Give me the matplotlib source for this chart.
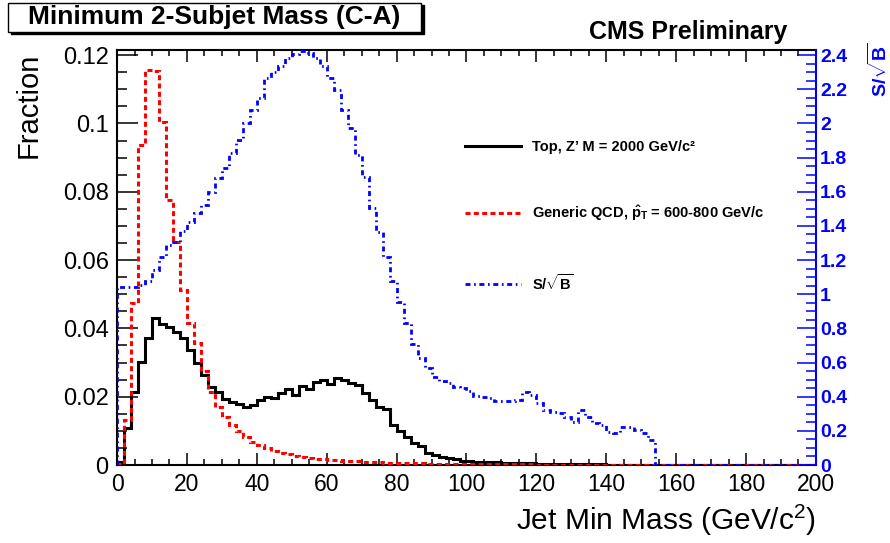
import numpy as np
import matplotlib
matplotlib.use("Agg")
import matplotlib.pyplot as plt
from matplotlib.patches import Rectangle
from matplotlib.ticker import MultipleLocator, FuncFormatter

plt.rcParams["font.family"] = ["Liberation Sans", "DejaVu Sans"]
plt.rcParams["mathtext.fontset"] = "custom"
plt.rcParams["mathtext.rm"] = "Liberation Sans"
plt.rcParams["mathtext.it"] = "Liberation Sans:italic"
plt.rcParams["mathtext.bf"] = "Liberation Sans:bold"
plt.rcParams["lines.scale_dashes"] = False

# 100 bins of 2 GeV from 0 to 200
bin_edges = np.linspace(0, 200, 101)

# Top, Z' M = 2000 GeV/c^2  (fraction per bin)
top_frac = [
    0.0010, 0.0107, 0.0215, 0.0302, 0.0371, 0.0429, 0.0412, 0.0405, 0.0390, 0.0372,
    0.0336, 0.0300, 0.0263, 0.0228, 0.0213, 0.0192, 0.0185, 0.0178, 0.0170, 0.0176,
    0.0190, 0.0198, 0.0195, 0.0210, 0.0222, 0.0206, 0.0231, 0.0224, 0.0244, 0.0249,
    0.0236, 0.0255, 0.0249, 0.0241, 0.0234, 0.0210, 0.0190, 0.0170, 0.0163, 0.0118,
    0.0100, 0.0082, 0.0064, 0.0056, 0.0036, 0.0029, 0.0024, 0.0020, 0.0017, 0.0013,
    0.0011, 0.0010, 0.0009, 0.0008, 0.0008, 0.0007, 0.0006, 0.0006, 0.0005, 0.0005,
    0.0004, 0.0004, 0.0004, 0.0003, 0.0003, 0.0003, 0.0002, 0.0002, 0.0002, 0.0002,
    0.0001, 0.0001, 0.0001, 0.0001, 0.0001, 0.0001, 0.0001, 0.0001, 0.0001, 0.0001,
    0.0, 0.0, 0.0, 0.0, 0.0, 0.0, 0.0, 0.0, 0.0, 0.0,
    0.0, 0.0, 0.0, 0.0, 0.0, 0.0, 0.0, 0.0, 0.0, 0.0,
]

# Generic QCD, pT-hat = 600-800 GeV/c
qcd_frac = [
    0.0003, 0.0132, 0.0473, 0.0937, 0.1156, 0.1154, 0.1005, 0.0776, 0.0654, 0.0512,
    0.0417, 0.0356, 0.0275, 0.0215, 0.0170, 0.0140, 0.0118, 0.0100, 0.0082, 0.0068,
    0.0058, 0.0049, 0.0042, 0.0036, 0.0031, 0.0027, 0.0023, 0.0021, 0.0019, 0.0017,
    0.0015, 0.0014, 0.0013, 0.0012, 0.0011, 0.0010, 0.0009, 0.0008, 0.0007, 0.0007,
    0.0006, 0.0006, 0.0005, 0.0005, 0.0004, 0.0004, 0.0004, 0.0003, 0.0003, 0.0003,
    0.0002, 0.0002, 0.0002, 0.0002, 0.0002, 0.0002, 0.0002, 0.0002, 0.0002, 0.0002,
    0.0001, 0.0001, 0.0001, 0.0001, 0.0001, 0.0001, 0.0001, 0.0001, 0.0001, 0.0001,
    0.0001, 0.0001, 0.0001, 0.0001, 0.0001, 0.0, 0.0, 0.0, 0.0, 0.0,
    0.0, 0.0, 0.0, 0.0, 0.0, 0.0, 0.0, 0.0, 0.0, 0.0,
    0.0, 0.0, 0.0, 0.0, 0.0, 0.0, 0.0, 0.0, 0.0, 0.0,
]

# S/sqrt(B), right axis
s_over_sqrtb = [
    1.044, 1.044, 1.044, 1.054, 1.079, 1.142, 1.220, 1.288, 1.304, 1.372,
    1.425, 1.474, 1.522, 1.600, 1.679, 1.737, 1.825, 1.903, 2.000, 2.078,
    2.147, 2.264, 2.299, 2.336, 2.381, 2.406, 2.426, 2.410, 2.381, 2.336,
    2.264, 2.196, 2.078, 1.971, 1.815, 1.688, 1.503, 1.366, 1.220, 1.080,
    0.955, 0.834, 0.708, 0.626, 0.571, 0.515, 0.494, 0.482, 0.458, 0.449,
    0.435, 0.404, 0.400, 0.390, 0.376, 0.376, 0.376, 0.380, 0.430, 0.410,
    0.361, 0.322, 0.312, 0.303, 0.279, 0.254, 0.320, 0.283, 0.248, 0.234,
    0.195, 0.186, 0.224, 0.224, 0.205, 0.189, 0.146, 0.0, 0.0, 0.0,
    0.0, 0.0, 0.0, 0.0, 0.0, 0.0, 0.0, 0.0, 0.0, 0.0,
    0.0, 0.0, 0.0, 0.0, 0.0, 0.0, 0.0, 0.0, 0.0, 0.0,
]

blue = "#0000ff"

fig = plt.figure(figsize=(8.9, 5.43), dpi=100)
ax = fig.add_axes([0.1315, 0.1436, 0.7853, 0.7643])

h_top = ax.stairs(top_frac, bin_edges, color="black", linewidth=2.2,
                  label="Top, Z\u2019 M = 2000 GeV/c\u00b2", zorder=3)
h_qcd = ax.stairs(qcd_frac, bin_edges, color="#ff0000", linewidth=2.2,
                  linestyle=(0, (3.6, 2.4)),
                  label=r"Generic QCD, $\mathbf{\hat{p}_{T}}$ = 600-800 GeV/c", zorder=4)

ax.set_xlim(0, 200)
ax.set_ylim(0, 0.1215)

ax2 = ax.twinx()
h_sig = ax2.stairs(s_over_sqrtb, bin_edges, color=blue, linewidth=2.0,
                   linestyle=(0, (3.6, 2.6, 1.2, 2.6)),
                   label=r"S/$\mathbf{\sqrt{B}}$", zorder=5)
ax2.set_ylim(0, 2.43)

# axis frame
for s in ["left", "bottom", "top"]:
    ax.spines[s].set_linewidth(1.5)
ax.spines["right"].set_visible(False)
for s in ["left", "bottom", "top"]:
    ax2.spines[s].set_visible(False)
ax2.spines["right"].set_color(blue)
ax2.spines["right"].set_linewidth(1.5)

fmt = FuncFormatter(lambda v, p: "%g" % round(v, 4))

ax.xaxis.set_major_locator(MultipleLocator(20))
ax.xaxis.set_minor_locator(MultipleLocator(5))
ax.yaxis.set_major_locator(MultipleLocator(0.02))
ax.yaxis.set_minor_locator(MultipleLocator(0.005))
ax.yaxis.set_major_formatter(fmt)
ax.tick_params(axis="x", which="major", direction="in", length=8.6, width=1.1,
               top=True, labelsize=16.5, pad=6)
ax.tick_params(axis="x", which="minor", direction="in", length=4, width=1.1, top=True)
ax.tick_params(axis="y", which="major", direction="in", length=15, width=1.1,
               right=False, labelsize=17, pad=6)
ax.tick_params(axis="y", which="minor", direction="in", length=7, width=1.1, right=False)

ax2.yaxis.set_minor_locator(MultipleLocator(0.05))
ax2.set_yticks(np.arange(0, 2.41, 0.2))
ax2.set_yticklabels(["%g" % round(v, 2) for v in np.arange(0, 2.41, 0.2)],
                    fontweight="bold")
ax2.tick_params(axis="y", which="major", direction="in", length=14, width=1.1,
                color=blue, labelcolor=blue, labelsize=14, pad=3)
ax2.tick_params(axis="y", which="minor", direction="in", length=7, width=1.1, color=blue)

ax.set_xlabel(r"Jet Min Mass (GeV/c$^{2}$)", fontsize=21.5, loc="right")
ax.xaxis.set_label_coords(1.0, -0.09)
ax.set_ylabel("Fraction", fontsize=21, loc="top")
ax.yaxis.set_label_coords(-0.106, 0.993)
ax2.set_ylabel(r"S/$\mathbf{\sqrt{B}}$", fontsize=14, fontweight="bold",
               color=blue, loc="top")
ax2.yaxis.set_label_coords(1.0744, 1.019)

ax.legend(handles=[h_top, h_qcd, h_sig], loc="upper left",
          bbox_to_anchor=(0.498, 0.783), frameon=False, borderaxespad=0,
          borderpad=0, handlelength=3.8, handletextpad=0.8, labelspacing=3.4,
          prop={"size": 10.5, "weight": "bold"})

# title pave with shadow
fig.patches.append(Rectangle((11 / 890, 1 - 34 / 543), 413 / 890, 29 / 543,
                             transform=fig.transFigure, facecolor="black",
                             edgecolor="black", zorder=1))
fig.patches.append(Rectangle((8 / 890, 1 - 31.5 / 543), 413 / 890, 29 / 543,
                             transform=fig.transFigure, facecolor="white",
                             edgecolor="black", linewidth=1, zorder=2))
fig.text(214 / 890, 1 - 17 / 543, "Minimum 2-Subjet Mass (C-A)", ha="center",
         va="center", fontsize=19, fontweight="bold", zorder=3)
fig.text(688 / 890, 1 - 32 / 543, "CMS Preliminary", ha="center", va="center",
         fontsize=18, fontweight="bold")

fig.savefig("out.png", dpi=100)
